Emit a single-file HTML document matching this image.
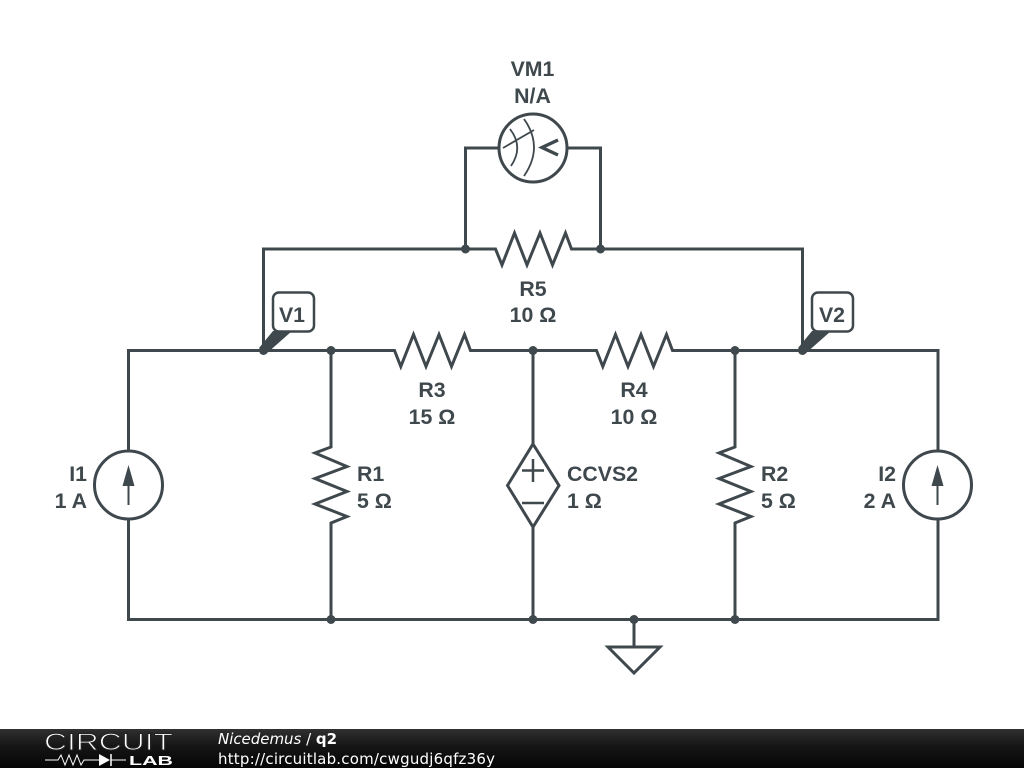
<!DOCTYPE html>
<html><head><meta charset="utf-8"><style>
html,body{margin:0;padding:0;background:#fff;width:1024px;height:768px;overflow:hidden}
svg{display:block}
.l{font-family:"Liberation Sans",Arial,sans-serif;font-weight:700;font-size:21.3px;fill:#3f484d}
.f{font-family:"DejaVu Sans",sans-serif;font-size:15px;fill:#fff}
</style></head><body>
<svg width="1024" height="768" viewBox="0 0 1024 768" xmlns="http://www.w3.org/2000/svg">
<defs>
<linearGradient id="g" x1="0" y1="0" x2="0" y2="1"><stop offset="0" stop-color="#303030"/><stop offset="0.45" stop-color="#151515"/><stop offset="1" stop-color="#050505"/></linearGradient>
</defs>
<rect width="1024" height="768" fill="#fff"/>
<g fill="none" stroke="#3f484d" stroke-width="3" stroke-linejoin="miter">
<path d="M128.5 451V350.5H394.5L400.8 366.5 413.5 334.5 426 366.5 439 334.5 451.5 366.5 464.5 334.5 470.5 350.5H596.5L602.8 366.5 615.5 334.5 628 366.5 641 334.5 653.5 366.5 666.5 334.5 672.5 350.5H938V451"/>
<path d="M128.5 519V619.5H938V519"/>
<path d="M263.5 350.5V249H495.5L502 265 514.5 233 527 265 540 233 552.5 265 565.5 233 571.5 249H802.5V350.5"/>
<path d="M465.5 249V148H499M567 148H600.5V249"/>
<circle cx="533" cy="148" r="34"/>
<path d="M331 350.5V447L315 453 347 466.5 315 478.5 347 491.5 315 504 347 516.5 331 523V619.5"/>
<path d="M735 350.5V447L719 453 751 466.5 719 478.5 751 491.5 719 504 751 516.5 735 523V619.5"/>
<path d="M533 350.5V444M533 527V619.5"/>
<path d="M533 444L559 485.5 533 527 507.5 485.5Z"/>
<path d="M533 459V482M522 470.5H544M522 503H544" stroke-width="2.5"/>
<circle cx="128.5" cy="485" r="34"/>
<circle cx="937.5" cy="485" r="34"/>
<path d="M634 619.5V647M608 647H660L634 673Z"/>
<rect x="273" y="292.5" width="41" height="39" rx="6" stroke-width="2.5"/>
<rect x="812" y="292.5" width="41" height="39" rx="6" stroke-width="2.5"/>
</g>
<g fill="none" stroke="#3f484d" stroke-width="1.8">
<path d="M510 129Q524 147 511 166M524 119Q544 147 524 176M503 148L534 130"/>
<path d="M128.5 505V480M937.5 505V480" stroke-width="2"/>
</g>
<path d="M558 140L542 147.5 558 155" fill="none" stroke="#3f484d" stroke-width="3.4"/>
<g fill="#3f484d">
<path d="M128.5 465L134.5 486H122.5Z"/>
<path d="M937.5 465L943.5 486H931.5Z"/>
<path d="M259 348L273 331H292L266 354Z"/>
<path d="M798 348L812 331H831L805 354Z"/>
<circle cx="263.5" cy="350.5" r="4.5"/>
<circle cx="331" cy="350.5" r="4.5"/>
<circle cx="533" cy="350.5" r="4.5"/>
<circle cx="735" cy="350.5" r="4.5"/>
<circle cx="802.5" cy="350.5" r="4.5"/>
<circle cx="465.5" cy="249" r="4.5"/>
<circle cx="600.5" cy="249" r="4.5"/>
<circle cx="331" cy="619.5" r="4.5"/>
<circle cx="533" cy="619.5" r="4.5"/>
<circle cx="634" cy="619.5" r="4.5"/>
<circle cx="735" cy="619.5" r="4.5"/>
</g>
<g>
<text class="l" x="532.5" y="76" text-anchor="middle">VM1</text>
<text class="l" x="532.5" y="103" text-anchor="middle">N/A</text>
<text class="l" x="533" y="296" text-anchor="middle">R5</text>
<text class="l" x="533" y="322" text-anchor="middle">10 Ω</text>
<text class="l" x="292" y="322" text-anchor="middle">V1</text>
<text class="l" x="832" y="322" text-anchor="middle">V2</text>
<text class="l" x="432" y="397" text-anchor="middle">R3</text>
<text class="l" x="432" y="424" text-anchor="middle">15 Ω</text>
<text class="l" x="634" y="397" text-anchor="middle">R4</text>
<text class="l" x="634" y="424" text-anchor="middle">10 Ω</text>
<text class="l" x="357" y="481">R1</text>
<text class="l" x="357" y="508">5 Ω</text>
<text class="l" x="567" y="481">CCVS2</text>
<text class="l" x="567" y="508">1 Ω</text>
<text class="l" x="761" y="481">R2</text>
<text class="l" x="761" y="508">5 Ω</text>
<text class="l" x="87" y="481" text-anchor="end">I1</text>
<text class="l" x="87" y="508" text-anchor="end">1 A</text>
<text class="l" x="896" y="481" text-anchor="end">I2</text>
<text class="l" x="896" y="508" text-anchor="end">2 A</text>
</g>
<rect x="0" y="729" width="1024" height="39" fill="url(#g)"/>
<text x="44" y="750" font-family="Liberation Sans, sans-serif" font-size="24" textLength="129" lengthAdjust="spacingAndGlyphs" fill="#fff" stroke="#222" stroke-width="1">CIRCUIT</text>
<text x="129" y="765" font-family="Liberation Sans, sans-serif" font-weight="700" font-size="13" textLength="44" lengthAdjust="spacingAndGlyphs" fill="#fff">LAB</text>
<path d="M45 760H58L61 755 65 765 69 755 73 765 77 755 81 765 84 760H99M111 760H126" fill="none" stroke="#fff" stroke-width="1"/>
<path d="M99 754L110 760 99 766Z" fill="#fff"/>
<path d="M111 754V766" stroke="#fff" stroke-width="1.5"/>
<text class="f" x="218" y="744" textLength="119"><tspan font-style="italic">Nicedemus</tspan> / <tspan font-weight="700">q2</tspan></text>
<text class="f" x="218" y="764" textLength="277">http://circuitlab.com/cwgudj6qfz36y</text>
</svg>
</body></html>
